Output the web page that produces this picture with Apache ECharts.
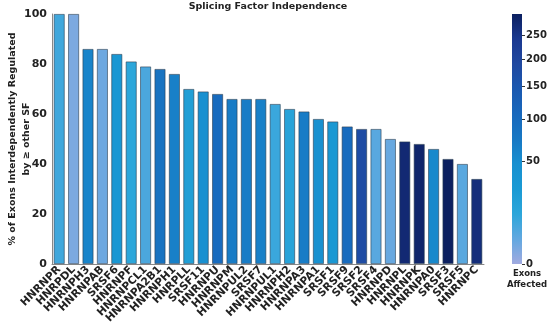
<!DOCTYPE html>
<html><head><meta charset="utf-8">
<script src="https://cdn.jsdelivr.net/npm/echarts@6/dist/echarts.min.js"></script>
<style>html,body{margin:0;padding:0;background:#fff}#c{width:550px;height:325px}</style>
</head><body><div id="c"></div>
<script>
const categories = ['HNRNPR','HNRPDL','HNRNPH3','HNRNPAB','SRSF6','HNRNPF','HNRNPCL1','HNRNPA2B1','HNRNPH1','HNRPLL','SRSF11','HNRNPU','HNRNPM','HNRNPUL2','SRSF7','HNRNPUL1','HNRNPH2','HNRNPA3','HNRNPA1','SRSF1','SRSF9','SRSF2','SRSF4','HNRNPD','HNRNPL','HNRNPK','HNRNPA0','SRSF3','SRSF5','HNRNPC'];
const percentIndependent = [100,100,86,86,84,81,79,78,76,70,69,68,66,66,66,64,62,61,58,57,55,54,54,50,49,48,46,42,40,34];
const exonsAffected = [8,1,60,2,32,12,6,85,65,20,48,100,70,70,65,9,15,70,45,30,100,180,4,2.5,275,285,55,298,4,265];
const yTicks = [0,20,40,60,80,100];
const colorbarTicks = [0,50,100,150,200,250];
const colorbarMax = 298;

const sMax = Math.sqrt(colorbarMax);
const cmap = ['#a0aae0','#62a8e0','#2ca6da','#1a9ad4','#1890d0','#1878c4','#1868bc','#1a58b0','#2048a0','#1a3890','#0c2060'];
const data = categories.map((c,i)=>[i, percentIndependent[i], Math.sqrt(exonsAffected[i])]);
const bold = {fontFamily:'DejaVu Sans', fontWeight:'bold', color:'#222'};

const chart = echarts.init(document.getElementById('c'), null, {renderer:'canvas'});
chart.setOption({
  animation:false,
  backgroundColor:'#fff',
  title:[
    {text:'Splicing Factor Independence', left:268, top:2, textAlign:'center',
     textStyle:Object.assign({fontSize:9.5}, bold), padding:0},
    {text:'Exons\nAffected', left:527, top:268, textAlign:'center',
     textStyle:Object.assign({fontSize:8.5, lineHeight:11}, bold), padding:0}
  ],
  grid:[
    {left:52, top:14, width:432, height:250, outerBoundsMode:'none', containLabel:false},
    {left:512, top:14, width:10, height:250, outerBoundsMode:'none', containLabel:false}
  ],
  xAxis:[
    {type:'category', data:categories, gridIndex:0,
     axisLine:{lineStyle:{color:'#888', width:1}}, axisTick:{show:false},
     axisLabel:Object.assign({rotate:45, interval:0, fontSize:10.8, margin:4}, bold)},
    {type:'category', gridIndex:1, show:false, data:['bar']}
  ],
  yAxis:[
    {type:'value', gridIndex:0, min:0, max:100, interval:20,
     name:'% of Exons Interdependently Regulated\nby \u2265 other SF', nameLocation:'middle', nameGap:32,
     nameMoveOverlap:false,
     nameTextStyle:Object.assign({fontSize:9.5, lineHeight:14, verticalAlign:'middle'}, bold),
     axisLine:{show:true, lineStyle:{color:'#888'}}, axisTick:{show:false},
     splitLine:{show:false},
     axisLabel:Object.assign({fontSize:11, margin:5}, bold)},
    {type:'value', gridIndex:1, min:0, max:sMax, position:'right',
     axisLine:{show:false}, splitLine:{show:false},
     axisTick:{show:true, length:3, lineStyle:{color:'#333'}, customValues:colorbarTicks.map(Math.sqrt)},
     axisLabel:Object.assign({fontSize:10, margin:4, customValues:colorbarTicks.map(Math.sqrt),
       formatter:v=>String(Math.round(v*v))}, bold)}
  ],
  visualMap:{
    type:'continuous', seriesIndex:0, dimension:2, min:0, max:sMax,
    show:false, inRange:{color:cmap}
  },
  series:[{
    type:'bar', xAxisIndex:0, yAxisIndex:0, data:data,
    encode:{x:0, y:1},
    barCategoryGap:'24%',
    itemStyle:{borderColor:'rgba(40,60,80,0.75)', borderWidth:0.8}
  },{
    type:'bar', xAxisIndex:1, yAxisIndex:1, data:[sMax], barWidth:'100%', silent:true,
    itemStyle:{color:new echarts.graphic.LinearGradient(0,1,0,0,
      cmap.map((c,i)=>({offset:i/(cmap.length-1), color:c})))}
  }]
});
</script></body></html>
